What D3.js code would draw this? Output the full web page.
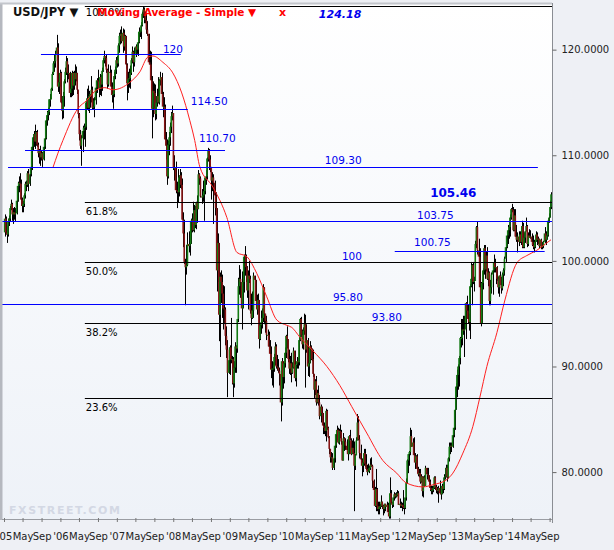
<!DOCTYPE html>
<html><head><meta charset="utf-8">
<script src="https://cdn.jsdelivr.net/npm/d3@7"></script>
<style>
html,body{margin:0;padding:0;background:#eef0f5;}
svg{display:block;font-family:"DejaVu Sans",Verdana,sans-serif;}
</style></head><body>
<svg id="c" width="614" height="550"></svg>
<script>
// ---------------- DATA ----------------
// weekly candles: flat [high, low, close] triples, week starting Monday
const firstWeek = "2005-01-03";
const firstOpen = 102.7;
const w2005 = [
104.4,102.3,104.0, 104.2,102.5,102.7, 103.3,101.7,102.5, 104.0,102.3,103.7, 104.3,103.3,104.0,
105.2,103.7,105.0, 105.8,104.8,105.4, 105.5,103.8,104.4, 105.0,103.5,104.6,
105.1,103.9,104.4, 105.0,103.7,104.5, 106.1,104.4,105.7, 107.5,105.6,107.1,
108.0,106.5,107.4, 108.3,106.9,107.3, 107.7,105.2,105.8, 106.0,104.6,105.2,
105.7,104.6,105.4, 106.4,105.1,106.2, 107.5,105.9,107.3, 107.6,106.6,107.2, 108.5,107.0,108.3,
108.7,106.6,107.3, 108.3,107.1,108.2, 109.2,108.0,108.9, 110.9,108.6,110.8,
112.0,110.4,111.7, 112.3,110.8,112.0, 112.9,110.6,111.3, 112.3,110.9,112.2,
112.4,110.8,111.0, 111.2,109.8,110.2, 110.6,109.2,110.5, 110.9,109.0,109.8, 110.5,109.5,110.2,
110.3,108.9,109.6, 111.0,109.5,110.8, 112.2,110.6,111.6, 113.5,111.5,113.3,
114.2,112.8,113.8, 114.5,113.3,114.1, 115.3,113.8,115.3, 115.8,114.6,115.3, 116.4,115.3,116.3,
117.9,116.1,117.7, 118.9,117.6,118.7, 119.5,117.9,118.9, 119.9,118.3,119.6,
121.4,119.4,120.2, 120.6,116.0,116.5, 117.5,115.8,116.9, 118.1,116.5,117.8];
const w2006 = [
117.9,114.9,115.0, 115.6,113.4,114.2, 116.0,113.5,115.6, 117.2,114.6,117.0, 118.3,116.8,117.9,
119.4,117.6,118.9, 119.2,116.9,117.8, 118.6,117.2,117.8, 117.9,115.5,115.9,
116.7,115.5,116.3, 118.0,115.6,117.8, 117.9,115.7,116.6, 118.0,116.2,117.8,
118.6,116.6,117.2, 118.4,117.0,117.8, 117.8,115.8,116.2, 116.2,113.5,113.9,
114.0,111.4,112.0, 112.4,110.6,110.9, 111.9,109.0,111.6, 112.8,110.3,112.3, 113.0,111.5,112.6,
113.8,110.8,112.7, 115.1,112.4,115.0, 116.3,114.3,115.4, 116.6,114.2,114.5,
116.1,114.0,115.6, 115.8,114.5,115.8, 117.5,115.0,116.2, 116.5,114.3,114.5,
115.4,114.3,114.6, 115.5,113.6,115.2, 116.8,114.8,116.4, 117.3,115.9,117.1, 118.1,116.8,117.0,
117.2,115.5,116.3, 117.7,115.7,117.4, 117.6,115.6,116.7, 118.3,116.1,118.0,
119.2,117.9,119.0, 119.9,118.7,119.4, 119.4,118.4,119.2, 119.5,117.8,118.1, 118.2,116.3,116.7,
118.6,116.5,117.9, 118.5,117.4,117.8, 118.1,116.4,116.5, 116.9,115.0,115.7,
116.3,114.4,115.8, 117.9,115.5,117.5, 118.4,117.2,118.1, 119.3,117.7,119.0];
const w2007 = [
119.4,118.3,118.7, 120.6,118.4,120.4, 121.6,119.7,121.3, 121.9,120.5,121.5, 122.2,120.6,120.8,
122.0,119.7,121.6, 121.9,119.9,120.3, 121.4,119.6,121.3, 121.3,118.2,118.6,
118.7,115.2,116.8, 117.9,115.9,117.2, 118.2,116.4,117.3, 118.5,116.3,117.8,
119.2,117.6,119.0, 120.3,118.7,119.8, 119.9,117.9,118.8, 120.2,118.4,119.6, 120.5,119.3,120.3,
120.6,119.6,120.0, 120.9,119.4,120.7, 122.1,120.6,121.7, 121.9,121.2,121.7,
122.6,121.0,122.3, 123.6,122.2,123.4, 124.1,123.0,123.8, 124.0,122.5,123.2,
123.6,122.5,122.8, 123.5,121.5,121.9, 122.7,121.3,121.5, 121.3,118.6,118.8, 119.9,118.3,118.6,
119.8,116.8,117.1, 117.5,111.6,114.4, 117.0,113.6,116.1, 116.8,114.4,115.9,
116.7,113.3,113.9, 115.6,113.4,115.0, 116.3,114.6,115.6, 117.4,114.9,115.0,
117.2,114.8,117.1, 117.9,116.6,117.4, 117.8,114.8,115.8, 116.0,113.6,114.6, 115.5,113.6,114.6,
114.8,111.4,111.5, 112.2,109.6,110.9, 111.5,107.2,108.0, 111.4,107.8,111.0,
112.2,110.0,111.7, 113.1,110.9,112.7, 114.1,112.1,113.7, 114.7,113.3,114.0, 114.0,108.6,108.8];
const w2008 = [
110.0,107.6,108.8, 109.4,106.4,106.7, 107.5,105.0,106.6, 108.7,105.5,106.5,
108.1,106.1,107.9, 108.7,106.9,108.1, 108.4,106.8,107.2, 107.8,103.9,103.9,
104.6,101.3,102.6, 103.9,99.7,99.9, 100.2,95.8,99.4, 101.5,98.7,99.6, 102.7,99.5,101.6,
102.8,100.8,101.4, 102.1,100.5,101.6, 104.0,101.6,103.8, 104.5,102.7,103.9,
105.6,102.8,102.9, 105.3,102.7,104.8, 105.2,103.1,103.4, 105.6,103.0,105.5,
106.2,103.6,104.9, 108.6,105.0,108.2, 108.3,107.2,107.8, 108.0,106.0,106.1, 106.8,105.4,106.0,
107.6,105.6,106.2, 106.7,103.8,106.6, 107.9,106.3,107.9, 108.6,107.2,108.0,
109.8,107.7,109.7, 110.7,109.4,110.5, 110.6,108.6,109.6, 110.0,108.4,108.8,
108.9,105.8,107.6, 108.4,106.6,107.9, 108.2,103.5,107.4, 107.6,104.3,106.2, 106.5,103.3,105.0,
105.0,97.1,99.1, 102.6,98.0,101.7, 101.5,92.4,94.9, 98.9,90.9,98.5,
99.1,96.0,98.0, 98.7,94.6,96.9, 97.7,93.5,95.5, 97.6,94.1,95.4,
95.6,92.0,92.9, 93.8,90.8,91.6, 92.5,87.1,89.4, 91.8,89.3,90.6, 92.0,89.2,91.8];
const w2009 = [
94.6,90.3,90.7, 91.0,88.3,90.7, 90.9,87.1,88.4, 90.5,88.0,89.9,
92.3,89.4,91.9, 92.0,89.4,91.7, 94.5,91.3,94.5, 98.4,94.2,97.6,
99.6,96.8,98.3, 99.2,96.5,98.0, 99.0,93.5,95.5, 98.7,95.5,98.0, 100.6,97.0,100.4,
101.4,98.6,100.5, 100.6,98.0,99.4, 99.5,96.5,97.2, 99.1,95.4,98.6,
100.0,97.9,98.3, 98.6,95.0,95.3, 96.9,93.9,94.6, 97.1,94.5,95.3,
98.9,94.6,98.6, 98.6,96.3,98.2, 98.0,95.6,96.2, 96.8,94.9,95.4, 96.9,95.0,96.3,
96.0,91.7,92.6, 94.0,92.5,93.9, 95.3,93.1,94.2, 95.5,93.6,94.6,
97.8,94.2,97.5, 97.4,94.0,95.0, 95.0,93.2,94.3, 94.8,92.5,93.0, 93.5,91.9,93.0,
93.3,91.7,91.9, 92.5,90.5,91.2, 91.9,88.9,89.7, 90.5,88.2,89.8,
90.4,88.0,89.8, 91.2,89.5,90.9, 92.3,90.1,91.9, 92.1,89.8,90.0,
91.1,89.6,89.9, 90.7,89.4,89.6, 89.9,88.2,89.3, 89.3,84.8,86.6, 90.8,86.3,90.5,
90.5,87.9,89.0, 90.4,88.4,90.3, 91.8,89.9,91.3, 93.0,90.8,92.9];
const w2010 = [
93.8,91.7,92.6, 92.6,90.4,90.7, 91.6,89.3,89.8, 91.0,89.2,90.3,
91.3,88.5,89.4, 90.4,89.3,89.9, 91.8,89.8,91.5, 91.3,88.6,88.9,
90.2,88.1,90.2, 90.9,89.8,90.5, 90.8,89.8,90.4, 92.8,90.1,92.5, 94.6,92.4,94.5,
94.7,92.8,93.0, 93.5,91.7,92.1, 93.7,91.6,93.4, 95.0,93.0,94.0,
94.9,88.0,91.6, 94.0,91.3,92.5, 92.7,89.1,90.0, 91.1,89.0,90.3, 92.4,90.5,91.9,
92.0,90.6,91.7, 91.6,90.5,90.7, 91.6,89.0,89.3, 89.3,87.0,87.8,
88.8,87.3,88.6, 89.1,86.3,86.6, 87.8,86.5,87.5, 88.2,86.3,86.6,
87.3,85.0,85.3, 86.4,84.7,86.2, 86.0,85.1,85.6, 85.4,83.6,84.4, 84.7,83.6,84.2,
84.4,83.4,83.9, 86.0,82.9,85.8, 85.9,84.0,84.2, 84.3,83.2,83.3,
83.4,81.7,82.2, 82.2,80.9,81.4, 81.9,80.9,81.4, 81.8,80.2,80.4,
81.6,80.2,81.3, 82.8,80.9,82.5, 83.6,82.3,83.6, 84.4,83.0,84.0, 84.2,82.7,82.8,
84.1,82.6,83.9, 84.5,83.2,83.8, 84.0,82.6,82.9, 82.8,81.1,81.1];
const w2011 = [
83.7,81.2,83.2, 83.3,82.0,82.9, 83.2,82.1,82.5, 83.1,81.9,82.1, 82.3,81.1,81.7,
83.5,81.8,83.4, 84.0,83.0,83.0, 83.2,81.6,81.7, 83.0,81.7,82.3,
83.2,81.7,81.8, 82.9,76.3,80.6, 81.7,80.2,81.6, 83.3,81.6,83.0,
85.5,83.0,84.7, 85.3,83.0,83.1, 83.5,81.3,81.8, 82.6,81.1,81.2,
81.3,79.6,80.6, 81.1,80.0,80.9, 82.2,80.6,81.8, 82.2,80.5,80.8, 81.7,80.2,80.3,
80.7,79.7,80.0, 80.8,80.0,80.1, 80.6,79.9,80.4, 81.3,80.2,80.7,
81.4,80.5,80.6, 80.7,78.5,79.2, 79.3,78.3,78.3, 78.6,76.7,76.8,
80.3,76.3,78.4, 78.5,76.3,76.8, 77.2,76.0,76.5, 77.2,76.0,76.7, 77.0,76.5,76.8,
77.8,76.7,77.2, 77.1,76.5,76.8, 76.9,75.9,76.5, 77.0,76.1,77.0,
77.0,76.3,76.7, 77.2,76.6,76.9, 77.1,76.2,76.2, 76.8,75.6,75.8, 79.5,75.6,78.0,
78.3,77.0,77.1, 77.2,76.6,76.9, 77.6,76.7,77.6, 78.1,77.3,77.9,
78.0,77.5,77.7, 78.1,77.6,77.8, 78.3,77.7,78.0, 78.2,76.9,76.9];
const w2012 = [
77.5,76.6,77.0, 77.2,76.6,76.8, 77.1,76.3,76.9, 78.3,76.5,76.7, 76.9,76.0,76.6,
77.6,76.5,77.6, 79.4,77.3,79.0, 81.2,78.9,81.1, 81.7,79.9,81.7,
82.0,80.6,81.9, 84.2,81.6,83.4, 84.0,82.4,82.4, 83.2,81.8,82.8,
83.3,81.5,81.6, 81.8,80.3,80.9, 81.6,80.4,81.5, 81.7,79.9,80.3, 80.5,79.6,79.8,
80.3,79.5,79.9, 80.3,78.9,79.1, 79.8,79.0,79.6, 79.6,77.7,78.2,
79.6,77.6,79.5, 79.7,78.6,78.7, 80.6,78.7,80.4, 80.3,79.3,79.8,
80.4,79.3,79.7, 79.7,78.8,79.1, 79.3,78.2,78.5, 78.7,77.9,78.3, 78.7,77.9,78.3,
78.7,78.1,78.5, 79.6,78.4,79.5, 79.6,78.3,78.6, 78.8,78.0,78.3,
78.6,77.9,78.2, 78.7,77.1,78.5, 79.2,77.9,78.0, 78.3,77.4,77.9,
78.9,77.9,78.7, 78.9,78.0,78.4, 79.8,78.3,79.5, 80.4,79.3,79.6, 80.7,79.5,80.4,
80.7,79.1,79.5, 81.4,79.4,81.3, 82.8,81.0,82.4, 82.8,81.7,82.5,
82.8,81.9,82.4, 83.9,82.3,83.5, 84.6,83.3,84.2, 86.6,84.0,85.9, 88.4,86.6,88.1];
const w2013 = [
89.7,87.1,89.2, 90.2,87.8,90.0, 91.0,88.1,90.8, 92.8,90.2,92.7,
94.5,91.8,92.7, 94.5,92.0,93.5, 94.8,93.0,93.4, 94.8,90.9,93.5,
96.1,92.6,96.0, 96.7,95.0,95.3, 95.9,94.1,94.5, 95.0,93.4,94.2,
97.8,92.6,97.6, 99.9,97.5,98.3, 99.7,95.8,99.6, 99.9,97.8,98.0, 98.5,97.1,98.1,
101.9,98.1,101.6, 103.3,101.2,103.2, 103.7,100.6,101.0, 102.1,100.0,100.4,
101.2,95.9,97.5, 98.0,93.8,94.1, 98.3,94.5,97.9, 99.3,97.3,99.1,
101.5,98.7,101.2, 101.5,98.3,99.2, 100.9,99.0,100.5, 101.3,98.2,98.3, 99.3,97.6,98.9,
99.0,95.8,96.2, 98.2,95.8,97.5, 98.9,96.9,98.7, 99.2,96.8,99.1,
100.6,98.9,99.8, 100.2,98.9,99.4, 99.4,97.8,99.4, 99.5,98.1,98.3, 98.5,96.9,97.5,
98.6,96.6,98.6, 99.0,97.7,97.7, 98.5,96.9,97.4, 98.9,97.2,98.7,
99.3,97.6,99.1, 100.4,98.6,100.2, 101.4,99.9,101.3, 102.6,101.2,102.4,
103.4,101.6,102.9, 103.7,102.1,103.2, 104.4,102.3,104.1, 105.0,103.9,104.9, 105.4,104.6,104.8];
const w2014 = [
105.1,102.8,102.9, 104.9,102.8,104.3, 104.9,102.3,102.3, 103.4,101.8,102.0,
102.7,100.8,102.3, 102.8,101.4,101.8, 102.8,101.7,102.5, 102.7,101.5,101.8,
103.8,101.2,103.3, 103.6,101.2,101.3, 102.7,101.2,102.2, 102.8,101.7,102.8, 104.1,102.9,103.3,
103.4,101.3,101.6, 102.7,101.4,102.4, 103.0,102.2,102.2, 102.9,102.1,102.3,
102.6,101.4,101.8, 102.4,101.1,101.5, 102.0,100.8,101.3, 101.9,101.2,101.8,
102.8,101.8,102.5, 102.7,101.5,102.0, 102.3,101.6,102.1, 102.1,101.2,101.4, 102.0,101.4,102.0,
102.1,101.1,101.3, 101.8,101.1,101.4, 101.9,101.2,101.8, 103.2,101.7,102.6,
102.8,101.5,102.0, 102.8,102.0,102.4, 104.0,102.3,103.8, 104.5,103.6,104.1,
105.7,104.1,105.1, 106.5,104.9,106.3];

// simple moving average
const maDates = ["2005-11-13","2005-12-16","2006-01-17","2006-04-23","2006-06-21","2006-08-25","2006-10-16","2006-12-06",
"2007-03-26","2007-05-30","2007-07-21","2007-08-22","2007-10-26","2007-12-29","2008-02-25","2008-04-17","2008-05-19",
"2008-06-21","2008-09-13","2008-12-13","2009-02-16","2009-04-21","2009-06-25","2009-08-28","2009-11-01","2010-01-05",
"2010-02-06","2010-03-29","2010-06-22","2010-09-21","2010-12-14","2011-03-01","2011-06-06","2011-09-18","2011-12-17",
"2012-02-14","2012-06-03","2012-08-07","2012-11-05","2012-12-14","2013-02-17","2013-04-22","2013-06-07","2013-07-22",
"2013-09-25","2013-11-16","2014-02-01","2014-04-06","2014-06-10","2014-08-13","2014-09-10"];
const maValues = [108.8,110.2,111.4,114.4,115.2,116.2,116.4,116.2,
116.9,117.9,119.3,119.4,118.8,117.8,115.9,113.3,111.4,
108.9,107.0,104.1,100.8,100.4,98.8,96.6,94.4,93.9,
93.7,92.8,91.5,90.0,88.2,86.2,83.7,81.1,79.9,
79.0,78.6,78.8,79.3,79.9,81.8,84.3,87.1,90.0,
93.2,96.3,99.8,100.5,101.0,101.7,102.0];

// support / resistance lines (blue)
const levelLabels = ["120","114.50","110.70","109.30","103.75","100.75","95.80"];
const levelValues = [119.55,114.42,110.54,108.93,103.82,100.92,95.88];
const levelFrom   = ["2005-08-28","2005-04-14","2005-05-17","2005-01-27",null,"2011-12-04",null];
const levelTo     = ["2008-02-19","2008-04-04","2008-12-01","2014-06-17",null,"2014-07-31",null];
const levelLabelAt= ["2007-10-26","2008-04-24","2008-06-15","2010-09-08","2012-04-26","2012-04-07","2010-10-30"];

// price notes (blue)
const noteTexts  = ["124.18","105.46","100","93.80"];
const noteValues = [124.18,105.46,100,93.80];
const noteAt     = ["2010-07-31","2012-07-20","2010-12-27","2011-07-09"];

// fibonacci retracement
const fibLow = 75.56, fibHigh = 124.18;
const fibRatios = [0, 0.236, 0.382, 0.5, 0.618, 1];
const fibLabels = ["0.0%","23.6%","38.2%","50.0%","61.8%","100.0%"];
const fibFrom = "2006-06-08";

const yTicks = [80, 90, 100, 110, 120];
const monthLabels = {4: "May", 8: "Sep"};

// ---------------- DRAWING ----------------
const P = d3.timeParse("%Y-%m-%d");
const svg = d3.select("#c");
const L = 2, R = 552, T = 4, B = 520;

const x = d3.scaleTime().domain([new Date(2005,0,1), new Date(2014,8,10)]).range([4,551]);
const y = d3.scaleLinear().domain([75.56,124.18]).range([519,5.5]);

const defs = svg.append("defs");
const g1 = defs.append("linearGradient").attr("id","bg").attr("x1",0).attr("y1",0).attr("x2",0).attr("y2",1);
g1.append("stop").attr("offset","0%").attr("stop-color","#ffffff");
g1.append("stop").attr("offset","100%").attr("stop-color","#eef2f8");
defs.append("clipPath").attr("id","clip").append("rect").attr("x",L).attr("y",T).attr("width",R-L).attr("height",B-T);

// plot background
svg.append("rect").attr("x",L).attr("y",T).attr("width",R-L).attr("height",B-T).attr("fill","url(#bg)");
// watermark
svg.append("text").attr("x",9).attr("y",513.5).text("FXSTREET.COM")
  .attr("font-size",11).attr("font-weight","bold").attr("letter-spacing",1.6).attr("fill","#d3d8e4");

const plot = svg.append("g").attr("clip-path","url(#clip)");

// candles
const flat = [].concat(w2005,w2006,w2007,w2008,w2009,w2010,w2011,w2012,w2013,w2014);
const t0 = d3.timeDay.offset(P(firstWeek), 2);
const candles = [];
let prev = firstOpen;
for (let i = 0; i < flat.length/3; i++) {
  const h = flat[3*i], l = flat[3*i+1], c = flat[3*i+2];
  candles.push({d: d3.timeDay.offset(t0, 7*i), o: prev, h, l, c});
  prev = c;
}
const cg = plot.append("g");
cg.selectAll("line.w").data(candles).join("line").attr("class","w")
  .attr("x1", d => Math.round(x(d.d))+0.5).attr("x2", d => Math.round(x(d.d))+0.5)
  .attr("y1", d => y(Math.max(d.h,d.o,d.c))).attr("y2", d => y(Math.min(d.l,d.o,d.c)))
  .attr("stroke","#000").attr("stroke-width",1);
cg.selectAll("rect").data(candles).join("rect")
  .attr("x", d => x(d.d)-0.8).attr("width",1.6)
  .attr("y", d => y(Math.max(d.o,d.c)))
  .attr("height", d => Math.max(1, Math.abs(y(d.o)-y(d.c))))
  .attr("fill", d => d.c >= d.o ? "#137a13" : "#861414");

// moving average
const maPts = maDates.map((d,i) => [P(d), maValues[i]]);
plot.append("path").datum(maPts)
  .attr("d", d3.line().x(d => x(d[0])).y(d => y(d[1])).curve(d3.curveMonotoneX))
  .attr("fill","none").attr("stroke","#ff2020").attr("stroke-width",1);

// blue levels
levelValues.forEach((v,i) => {
  const x1 = levelFrom[i] ? x(P(levelFrom[i])) : L;
  const x2 = levelTo[i] ? x(P(levelTo[i])) : R;
  const yy = Math.round(y(v)) + 0.5;
  plot.append("line").attr("x1",x1).attr("x2",x2).attr("y1",yy).attr("y2",yy)
    .attr("stroke","#0000ff").attr("stroke-width",1);
});
// fib lines
fibRatios.forEach((r,i) => {
  const v = fibLow + r*(fibHigh-fibLow);
  const yy = Math.round(y(v)) + 0.5;
  plot.append("line").attr("x1",x(P(fibFrom))).attr("x2",R).attr("y1",yy).attr("y2",yy)
    .attr("stroke","#000").attr("stroke-width",1);
  if (r > 0) {
    svg.append("text").attr("x",x(P(fibFrom))+1).attr("y", r===1 ? 16 : yy+12.5)
      .text(fibLabels[i]).attr("font-size",10).attr("fill","#000");
  }
});

// level labels
const levelDy = [-1.8,-3.5,-8,-3,-1.3,-5,-3.3];
levelLabels.forEach((t,i) => {
  svg.append("text").attr("x", x(P(levelLabelAt[i]))).attr("y", y(levelValues[i]) + levelDy[i])
    .text(t).attr("font-size",10.5).attr("fill","#0000ee");
});
// notes
const noteDy = [12.8,-6.3,-1,-5.6];
const noteStyle = [{w:"bold",s:"italic",f:11},{w:"bold",s:"normal",f:12},{w:"normal",s:"normal",f:10.5},{w:"normal",s:"normal",f:10.5}];
noteTexts.forEach((t,i) => {
  svg.append("text").attr("x", x(P(noteAt[i]))).attr("y", y(noteValues[i]) + noteDy[i])
    .text(t).attr("font-size",noteStyle[i].f).attr("font-weight",noteStyle[i].w)
    .attr("font-style",noteStyle[i].s).attr("fill","#0000ee");
});

// title
svg.append("text").attr("x",13).attr("y",15.5).text("USD/JPY \u25BC")
  .attr("font-size",11.5).attr("font-weight","bold").attr("fill","#111");
svg.append("text").attr("x",97).attr("y",15.5).text("Moving Average - Simple \u25BC")
  .attr("font-size",10.5).attr("font-weight","bold").attr("fill","#ff0000");
svg.append("text").attr("x",279).attr("y",15.5).text("x")
  .attr("font-size",11).attr("font-weight","bold").attr("fill","#ff0000");

// frame
svg.append("rect").attr("x",0).attr("y",T-1).attr("width",2.5).attr("height",B-T+1).attr("fill","#b5b8bf");
svg.append("line").attr("x1",0).attr("x2",R).attr("y1",T-0.5).attr("y2",T-0.5).attr("stroke","#c3c6cc").attr("stroke-width",2);
svg.append("line").attr("x1",R+0.5).attr("x2",R+0.5).attr("y1",T-1).attr("y2",B+3).attr("stroke","#8a8d93");
svg.append("line").attr("x1",L).attr("x2",R).attr("y1",519.5).attr("y2",519.5).attr("stroke","#9a9da3");

// y axis
const ya = svg.append("g").attr("transform",`translate(${R+0.5},0)`)
  .call(d3.axisRight(y).tickValues(yTicks).tickSize(4).tickSizeOuter(0).tickPadding(5).tickFormat(d3.format(".4f")));
ya.select(".domain").remove();
ya.selectAll("line").attr("stroke","#666");
ya.selectAll("text").attr("font-size",10).attr("font-family","DejaVu Sans").attr("fill","#222");

// x axis
const xt = d3.timeMonth.range(new Date(2005,0,1), new Date(2014,9,1)).filter(d => d.getMonth()%4===0);
const xa = svg.append("g").attr("transform","translate(0,518)")
  .call(d3.axisBottom(x).tickValues(xt).tickSize(4).tickSizeOuter(0).tickPadding(11)
    .tickFormat(d => d.getMonth()===0 ? "'" + d3.timeFormat("%y")(d) : monthLabels[d.getMonth()]));
xa.select(".domain").remove();
xa.selectAll("line").attr("stroke","#777");
xa.selectAll("text").attr("font-size",10).attr("font-family","DejaVu Sans").attr("fill","#222");
</script>
</body></html>
